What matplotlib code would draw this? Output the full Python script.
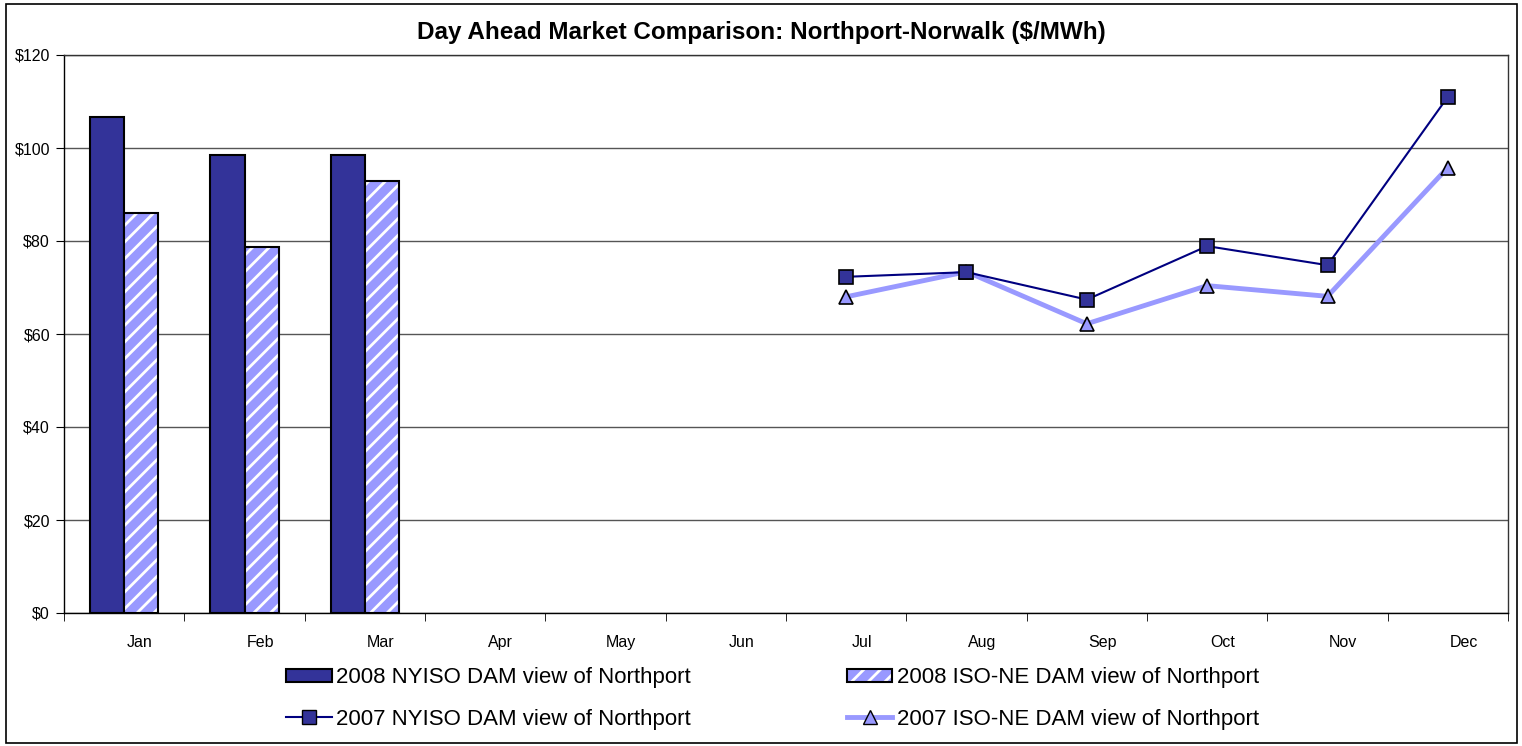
import numpy as np
import matplotlib
matplotlib.use("Agg")
import matplotlib.pyplot as plt
from matplotlib.patches import Rectangle
from matplotlib.lines import Line2D
from matplotlib.legend_handler import HandlerTuple

months = ['Jan', 'Feb', 'Mar', 'Apr', 'May', 'Jun',
          'Jul', 'Aug', 'Sep', 'Oct', 'Nov', 'Dec']

# 2008 bars (only Jan-Mar available)
nyiso_2008 = [106.7, 98.6, 98.4]
isone_2008 = [86.0, 78.8, 92.9]

# 2007 lines (Jul-Dec)
months_2007 = ['Jul', 'Aug', 'Sep', 'Oct', 'Nov', 'Dec']
nyiso_2007 = [72.3, 73.3, 67.4, 78.9, 74.8, 111.0]
isone_2007 = [68.0, 73.4, 62.2, 70.4, 68.1, 95.8]

yticks = [0, 20, 40, 60, 80, 100, 120]

plt.rcParams['font.family'] = ['Liberation Sans', 'DejaVu Sans']
plt.rcParams['hatch.linewidth'] = 2.0

W, H = 1522, 746
fig = plt.figure(figsize=(W / 100, H / 100), dpi=100)
ax = fig.add_axes([64 / W, (H - 613) / H, (1508 - 64) / W, (613 - 55) / H])

x = np.arange(len(months))
w = 0.283

# 2008 bars
x08 = x[:len(nyiso_2008)]
ax.bar(x08 - w / 2, nyiso_2008, w, color='#333399', edgecolor='black', linewidth=1.5, zorder=3)
ax.bar(x08 + w / 2, isone_2008, w, color='#9999FF', edgecolor='white', hatch='//',
       linewidth=0, zorder=3)
ax.bar(x08 + w / 2, isone_2008, w, fill=False, edgecolor='black', linewidth=1.5, zorder=4)

# 2007 lines
x07 = np.array([months.index(m) for m in months_2007])
ax.plot(x07, isone_2007, color='#9999FF', linewidth=3.5, marker='^', markersize=10,
        markerfacecolor='#9999FF', markeredgecolor='black', markeredgewidth=1.2, zorder=5)
ax.plot(x07, nyiso_2007, color='#000080', linewidth=1.5, marker='s', markersize=10,
        markerfacecolor='#333399', markeredgecolor='black', markeredgewidth=1.2, zorder=6)

ax.set_xlim(-0.5, 11.5)
ax.set_ylim(0, 120)
ax.set_yticks(yticks)
ax.set_yticklabels(['$%d' % v for v in yticks], fontsize=11.5)
# Excel puts the month labels a bit right of the category centre
ax.set_xticks(x + 0.13)
ax.set_xticklabels(months, fontsize=11.5)
ax.set_xticks(np.arange(-0.5, 12, 1), minor=True)
ax.tick_params(axis='x', which='major', length=0, pad=16)
ax.tick_params(axis='x', which='minor', length=6, direction='out', color='black')
ax.tick_params(axis='y', length=6, direction='out', color='black', pad=4)
ax.grid(axis='y', color='#555555', linewidth=1, zorder=0)
for s in ax.spines.values():
    s.set_color('#333333')
    s.set_linewidth(1)
ax.spines['left'].set_color('black')
ax.spines['bottom'].set_color('black')

fig.text(0.5, 1 - 33 / H, 'Day Ahead Market Comparison: Northport-Norwalk ($/MWh)',
         ha='center', va='center', fontsize=17.5, fontweight='bold')

# legend
h_ny08 = Rectangle((0, 0), 1, 1, facecolor='#333399', edgecolor='black', linewidth=1.5)
h_iso08a = Rectangle((0, 0), 1, 1, facecolor='#9999FF', edgecolor='white', hatch='//', linewidth=0)
h_iso08b = Rectangle((0, 0), 1, 1, fill=False, edgecolor='black', linewidth=1.5)
h_ny07 = Line2D([], [], color='#000080', linewidth=1.5, marker='s', markersize=10,
                markerfacecolor='#333399', markeredgecolor='black')
h_iso07 = Line2D([], [], color='#9999FF', linewidth=3.5, marker='^', markersize=10,
                 markerfacecolor='#9999FF', markeredgecolor='black')
fig.legend([h_ny08, h_ny07, (h_iso08a, h_iso08b), h_iso07],
           ['2008 NYISO DAM view of Northport', '2007 NYISO DAM view of Northport',
            '2008 ISO-NE DAM view of Northport', '2007 ISO-NE DAM view of Northport'],
           handler_map={tuple: HandlerTuple(ndivide=1, pad=0)},
           ncol=2, loc='center left', bbox_to_anchor=(286 / W, 1 - 698.5 / H), frameon=False,
           fontsize=16, handlelength=2.05, handleheight=0.55, handletextpad=0.22,
           columnspacing=7.0, labelspacing=0.9, borderpad=0, borderaxespad=0)

fig.patches.append(Rectangle((6 / W, 3 / H), (1517 - 6) / W, (742 - 3) / H,
                             transform=fig.transFigure, fill=False,
                             edgecolor='black', linewidth=1.2))

fig.savefig('out.png', dpi=100)
